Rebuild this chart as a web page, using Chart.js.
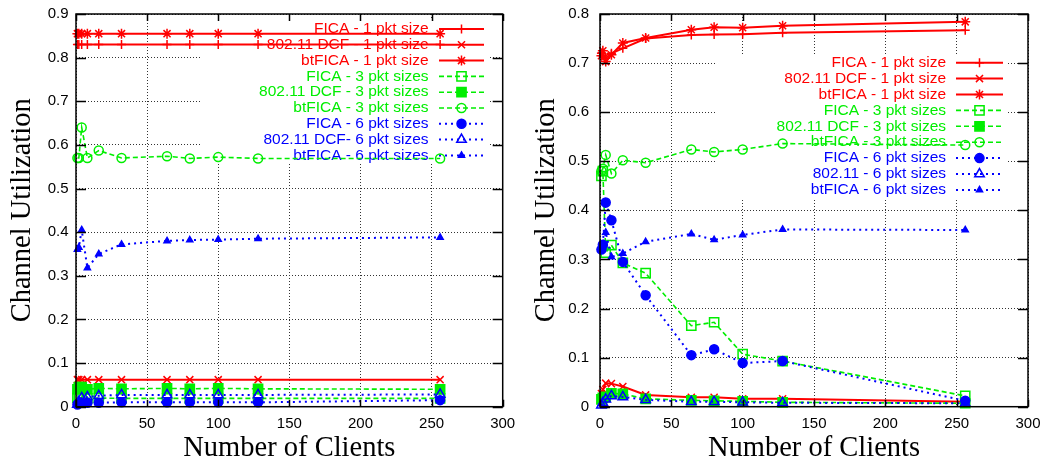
<!DOCTYPE html>
<html>
<head>
<meta charset="utf-8">
<script src="https://cdn.jsdelivr.net/npm/chart.js@4.4.1/dist/chart.umd.min.js"></script>
<style>
	html, body { margin: 0; padding: 0; background: #ffffff; }
	#wrap { position: relative; width: 1042px; height: 463px; overflow: hidden; }
	#left-chart { position: absolute; left: 0; top: 0; }
	#right-chart { position: absolute; left: 520px; top: 0; }
</style>
</head>
<body>
<div id="wrap">
	<canvas id="left-chart" width="520" height="463"></canvas>
	<canvas id="right-chart" width="522" height="463"></canvas>
</div>
<script>
const clients = [1, 2, 4, 8, 16, 32, 64, 80, 100, 128, 256];

const xTicks = [0, 50, 100, 150, 200, 250, 300];
const leftYTicks = [0, 0.1, 0.2, 0.3, 0.4, 0.5, 0.6, 0.7, 0.8, 0.9];
const rightYTicks = [0, 0.1, 0.2, 0.3, 0.4, 0.5, 0.6, 0.7, 0.8];

const leftLabels = ["FICA - 1 pkt size", "802.11 DCF - 1 pkt size", "btFICA - 1 pkt size",
	"FICA - 3 pkt sizes", "802.11 DCF - 3 pkt sizes", "btFICA - 3 pkt sizes",
	"FICA - 6 pkt sizes", "802.11 DCF- 6 pkt sizes", "btFICA - 6 pkt sizes"];
const rightLabels = ["FICA - 1 pkt size", "802.11 DCF - 1 pkt size", "btFICA - 1 pkt size",
	"FICA - 3 pkt sizes", "802.11 DCF - 3 pkt sizes", "btFICA - 3 pkt sizes",
	"FICA - 6 pkt sizes", "802.11 - 6 pkt sizes", "btFICA - 6 pkt sizes"];

// left plot
const leftFica1 = [0.83, 0.83, 0.83, 0.83, 0.83, 0.83, 0.83, 0.83, 0.83, 0.83, 0.83];
const leftDcf1 = [0.062, 0.062, 0.062, 0.062, 0.062, 0.062, 0.062, 0.062, 0.062, 0.062, 0.062];
const leftBt1 = [0.855, 0.855, 0.855, 0.855, 0.855, 0.855, 0.855, 0.855, 0.855, 0.855, 0.855];
const leftFica3 = [0.02, 0.02, 0.019, 0.019, 0.02, 0.019, 0.019, 0.019, 0.019, 0.019, 0.019];
const leftDcf3 = [0.04, 0.045, 0.045, 0.04, 0.042, 0.041, 0.042, 0.041, 0.042, 0.041, 0.04];
const leftBt3 = [0.57, 0.57, 0.64, 0.57, 0.587, 0.57, 0.574, 0.569, 0.572, 0.569, 0.569];
const leftFica6 = [0.005, 0.008, 0.009, 0.009, 0.009, 0.01, 0.01, 0.01, 0.01, 0.01, 0.015];
const leftDcf6 = [0.005, 0.012, 0.02, 0.022, 0.025, 0.027, 0.027, 0.027, 0.027, 0.027, 0.028];
const leftBt6 = [0.36, 0.365, 0.405, 0.318, 0.35, 0.372, 0.38, 0.382, 0.383, 0.385, 0.388];

// right plot
const rightFica1 = [0.72, 0.715, 0.71, 0.72, 0.73, 0.75, 0.757, 0.758, 0.759, 0.762, 0.767];
const rightDcf1 = [0.027, 0.035, 0.048, 0.047, 0.041, 0.024, 0.019, 0.019, 0.016, 0.016, 0.01];
const rightBt1 = [0.715, 0.725, 0.703, 0.717, 0.741, 0.751, 0.768, 0.773, 0.772, 0.776, 0.784];
const rightFica3 = [0.47, 0.48, 0.314, 0.329, 0.293, 0.272, 0.165, 0.172, 0.107, 0.093, 0.022];
const rightDcf3 = [0.015, 0.018, 0.02, 0.027, 0.026, 0.016, 0.013, 0.012, 0.011, 0.009, 0.007];
const rightBt3 = [0.48, 0.485, 0.513, 0.475, 0.502, 0.497, 0.524, 0.519, 0.524, 0.536, 0.533];
const rightFica6 = [0.32, 0.33, 0.416, 0.38, 0.295, 0.227, 0.105, 0.117, 0.089, 0.093, 0.012];
const rightDcf6 = [0.003, 0.008, 0.015, 0.022, 0.02, 0.014, 0.01, 0.01, 0.009, 0.008, 0.007];
const rightBt6 = [0.325, 0.33, 0.355, 0.305, 0.312, 0.336, 0.352, 0.34, 0.35, 0.361, 0.36];

const red = "#ff0000";
const green = "#00ee00";
const blue = "#0000ff";

// gnuplot-ish line/point types, one per series
const styles = [
	{ color: red, dash: [], point: "cross", radius: 4.5, fill: false, width: 2 },
	{ color: red, dash: [], point: "crossRot", radius: 5, fill: false, width: 2 },
	{ color: red, dash: [], point: "star", radius: 5, fill: false, width: 2 },
	{ color: green, dash: [5, 3], point: "rect", radius: 6.5, fill: false, width: 1.6 },
	{ color: green, dash: [5, 3], point: "rect", radius: 6.5, fill: true, width: 1.6 },
	{ color: green, dash: [5, 3], point: "circle", radius: 4.5, fill: false, width: 1.6 },
	{ color: blue, dash: [2, 4], point: "circle", radius: 4.5, fill: true, width: 2 },
	{ color: blue, dash: [2, 4], point: "triangle", radius: 5.5, fill: false, width: 2 },
	{ color: blue, dash: [2, 4], point: "triangle", radius: 3.5, fill: true, width: 2 },
];

const sansFont = "\"Liberation Sans\", Arial, Helvetica, sans-serif";
const serifFont = "\"Liberation Serif\", \"Times New Roman\", serif";

function makeDataset(label, values, i) {
	const st = styles[i];
	return {
		label: label,
		data: clients.map((x, j) => ({ x: x, y: values[j] })),
		borderColor: st.color,
		backgroundColor: st.color,
		borderWidth: st.width,
		borderDash: st.dash,
		pointStyle: st.point,
		pointRadius: st.radius,
		pointBackgroundColor: st.fill ? st.color : "rgba(0,0,0,0)",
		pointBorderColor: st.color,
		pointBorderWidth: 1.5,
		tension: 0,
		fill: false,
		clip: 8,
		order: 8 - i,
	};
}

// key in the top right corner, text right aligned with the sample on its right,
// plus the gnuplot frame with inward tics on all four sides
const gnuplotLook = {
	id: "gnuplotLook",
	beforeDatasetsDraw(chart, args, opts) {
		const ctx = chart.ctx;
		ctx.save();
		ctx.fillStyle = "#ffffff";
		ctx.fillRect(opts.box[0], opts.box[1], opts.box[2] - opts.box[0], opts.box[3] - opts.box[1]);
		ctx.font = "15.5px " + sansFont;
		ctx.textAlign = "right";
		ctx.textBaseline = "middle";
		chart.data.datasets.forEach((ds, i) => {
			const st = styles[i];
			const y = opts.keyTop + i * opts.keyStep;
			ctx.fillStyle = st.color;
			ctx.fillText(ds.label, opts.textRight, y);
			ctx.strokeStyle = st.color;
			ctx.lineWidth = st.width;
			ctx.setLineDash(st.dash);
			ctx.beginPath();
			ctx.moveTo(opts.sample[0], y);
			ctx.lineTo(opts.sample[1], y);
			ctx.stroke();
			ctx.setLineDash([]);
			ctx.fillStyle = st.fill ? st.color : "rgba(0,0,0,0)";
			ctx.lineWidth = 1.5;
			if (Chart.helpers && Chart.helpers.drawPoint) {
				Chart.helpers.drawPoint(ctx, { pointStyle: st.point, radius: st.radius, rotation: 0, borderWidth: 1.5 },
					(opts.sample[0] + opts.sample[1]) / 2, y);
			}
		});
		ctx.restore();
	},
	afterDraw(chart) {
		const ctx = chart.ctx;
		const a = chart.chartArea;
		const xs = chart.scales.x;
		const ys = chart.scales.y;
		ctx.save();
		ctx.strokeStyle = "#000000";
		ctx.lineWidth = 1.5;
		ctx.beginPath();
		ys.ticks.forEach(t => {
			const p = Math.round(ys.getPixelForValue(t.value)) + 0.5;
			ctx.moveTo(a.left, p); ctx.lineTo(a.left + 10, p);
			ctx.moveTo(a.right, p); ctx.lineTo(a.right - 10, p);
		});
		xs.ticks.forEach(t => {
			const p = Math.round(xs.getPixelForValue(t.value)) + 0.5;
			ctx.moveTo(p, a.bottom); ctx.lineTo(p, a.bottom - 7);
			ctx.moveTo(p, a.top); ctx.lineTo(p, a.top + 7);
		});
		ctx.stroke();
		ctx.strokeRect(a.left, a.top, a.right - a.left, a.bottom - a.top);
		ctx.restore();
	}
};

function makeChart(canvas, labels, series, yTicks, frame) {
	return new Chart(canvas, {
		type: "line",
		data: { datasets: series.map((values, i) => makeDataset(labels[i], values, i)) },
		plugins: [gnuplotLook],
		options: {
			responsive: false,
			animation: false,
			events: [],
			layout: { padding: { left: 0, top: 14, right: frame.padRight, bottom: 0 } },
			plugins: {
				legend: { display: false },
				tooltip: { enabled: false },
				gnuplotLook: frame.key,
			},
			scales: {
				x: {
					type: "linear",
					min: xTicks[0],
					max: xTicks[xTicks.length - 1],
					afterBuildTicks: scale => { scale.ticks = xTicks.map(v => ({ value: v })); },
					afterFit: scale => {
						scale.height = 56.3;
						scale.paddingLeft = 0;
						scale.paddingRight = 0;
					},
					ticks: { color: "#000000", padding: 8, font: { family: sansFont, size: 15 }, callback: v => String(v) },
					grid: { color: "#333333", lineWidth: 1, drawTicks: false },
					border: { display: false, dash: [1, 2] },
					title: {
						display: true, text: "Number of Clients", color: "#000000",
						font: { family: serifFont, size: 28.5, lineHeight: 1 }, padding: { top: 0, bottom: 0 }
					},
				},
				y: {
					min: yTicks[0],
					max: yTicks[yTicks.length - 1],
					afterBuildTicks: scale => { scale.ticks = yTicks.map(v => ({ value: v })); },
					afterFit: scale => {
						scale.width = frame.yWidth;
						scale.paddingTop = 0;
						scale.paddingBottom = 0;
					},
					ticks: {
						color: "#000000", padding: frame.tickPad, font: { family: sansFont, size: 15 },
						callback: v => v === 0 ? "0" : v.toFixed(1)
					},
					grid: { color: "#333333", lineWidth: 1, drawTicks: false },
					border: { display: false, dash: [1, 2] },
					title: {
						display: true, text: "Channel Utilization", color: "#000000",
						font: { family: serifFont, size: 28.5, lineHeight: 1 }, padding: { top: frame.titlePad, bottom: 0 }
					},
				},
			},
		},
	});
}

makeChart(document.getElementById("left-chart"), leftLabels,
	[leftFica1, leftDcf1, leftBt1, leftFica3, leftDcf3, leftBt3, leftFica6, leftDcf6, leftBt6],
	leftYTicks,
	{
		padRight: 17.3, yWidth: 76, tickPad: 7.5, titlePad: 8,
		key: { box: [200, 20, 490, 163], keyTop: 29, keyStep: 15.8, textRight: 428.5, sample: [439, 484] }
	});

makeChart(document.getElementById("right-chart"), rightLabels,
	[rightFica1, rightDcf1, rightBt1, rightFica3, rightDcf3, rightBt3, rightFica6, rightDcf6, rightBt6],
	rightYTicks,
	{
		padRight: 14, yWidth: 80, tickPad: 11, titlePad: 12.7,
		key: { box: [197, 54, 488, 198], keyTop: 62.7, keyStep: 15.9, textRight: 426, sample: [436, 483] }
	});
</script>
</body>
</html>
